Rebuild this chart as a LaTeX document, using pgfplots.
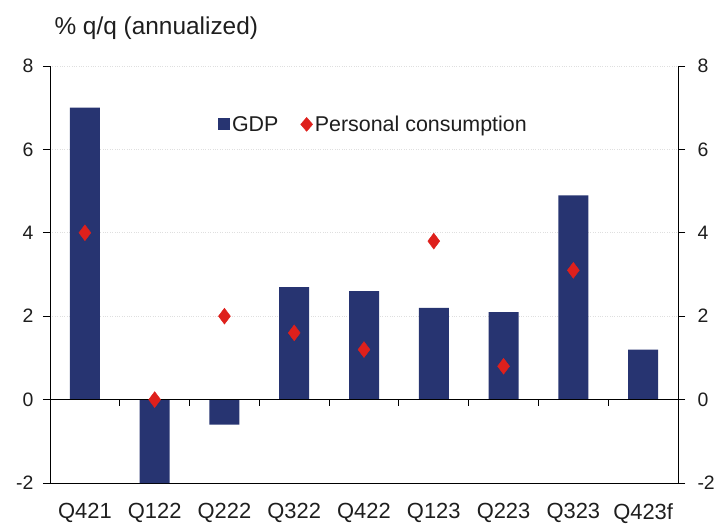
\documentclass[border=0pt]{standalone}
\usepackage{pgfplots}
\pgfplotsset{compat=1.18}
\usepackage{fontspec}
\setmainfont{Liberation Sans}
\definecolor{navy}{RGB}{39,52,113}
\definecolor{dred}{RGB}{222,32,28}
\definecolor{txt}{RGB}{30,30,30}
\begin{document}
\begin{tikzpicture}
\begin{axis}[
  at={(0,0)}, anchor=south west,
  scale only axis, width=628bp, height=417bp,
  xmin=-0.5, xmax=8.5, ymin=-2, ymax=8,
  xtick={0,1,2,3,4,5,6,7,8},
  xticklabels={Q421,Q122,Q222,Q322,Q422,Q123,Q223,Q323,Q423f},
  x tick style={draw=none},
  ytick={-2,0,2,4,6,8},
  axis x line*=bottom,
  tick align=outside,
  major tick length=7bp,
  every tick/.style={black, line width=0.9pt},
  axis line style={black, line width=0.9pt},
  ymajorgrids, grid style={gray!25, dotted, line width=0.6pt},
  /pgf/number format/assume math mode=true,
  ticklabel style={font=\fontsize{19.5}{22}\selectfont, text=txt},
  xticklabel style={font=\fontsize{22}{24}\selectfont, yshift=-10bp},
  yticklabel style={xshift=-6bp},
  legend style={at={(rel axis cs:0.515,0.86)}, anchor=center, draw=none, fill=none,
    font=\fontsize{21.5}{24}\selectfont, text=txt,
    nodes={inner xsep=2bp},
    /tikz/every even column/.append style={column sep=20bp}},
  legend columns=2,
  clip=false,
]
\addplot[ybar, bar width=30bp, fill=navy, draw=none,
  legend image code/.code={\fill[navy] (4bp,-6bp) rectangle (16bp,6bp);}]
  coordinates {(0,7.0) (1,-2.0) (2,-0.6) (3,2.7) (4,2.6) (5,2.2) (6,2.1) (7,4.9) (8,1.2)};
\addlegendentry{GDP}
\addplot[only marks, color=dred, mark=diamond*, mark size=8, mark options={fill=dred, draw=none},
  legend image code/.code={\fill[dred] (9bp,7bp) -- (15bp,0bp) -- (9bp,-7bp) -- (3bp,0bp) -- cycle;}]
  coordinates {(0,4.0) (1,0.0) (2,2.0) (3,1.6) (4,1.2) (5,3.8) (6,0.8) (7,3.1)};
\addlegendentry{Personal consumption}
\draw[black, line width=0.9pt] (axis cs:-0.5,0) -- (axis cs:8.5,0);
\draw[black, line width=0.9pt] (axis cs:0.5,0) -- (axis cs:0.5,-0.15);
\draw[black, line width=0.9pt] (axis cs:1.5,0) -- (axis cs:1.5,-0.15);
\draw[black, line width=0.9pt] (axis cs:2.5,0) -- (axis cs:2.5,-0.15);
\draw[black, line width=0.9pt] (axis cs:3.5,0) -- (axis cs:3.5,-0.15);
\draw[black, line width=0.9pt] (axis cs:4.5,0) -- (axis cs:4.5,-0.15);
\draw[black, line width=0.9pt] (axis cs:5.5,0) -- (axis cs:5.5,-0.15);
\draw[black, line width=0.9pt] (axis cs:6.5,0) -- (axis cs:6.5,-0.15);
\draw[black, line width=0.9pt] (axis cs:7.5,0) -- (axis cs:7.5,-0.15);
\end{axis}
\begin{axis}[
  at={(0,0)}, anchor=south west,
  scale only axis, width=628bp, height=417bp,
  xmin=-0.5, xmax=8.5, ymin=-2, ymax=8,
  hide x axis,
  axis y line*=right,
  ytick={-2,0,2,4,6,8},
  tick align=outside,
  major tick length=7bp,
  every tick/.style={black, line width=0.9pt},
  axis line style={black, line width=0.9pt},
  /pgf/number format/assume math mode=true,
  ticklabel style={font=\fontsize{19.5}{22}\selectfont, text=txt},
  yticklabel style={xshift=9bp},
]
\addplot[draw=none] coordinates {(0,0)};
\end{axis}
\node[anchor=west, font=\fontsize{24.5}{28}\selectfont, text=txt] at (1bp,455bp) {\% q/q (annualized)};
\pgfresetboundingbox
\path[use as bounding box] (-50bp,-43bp) rectangle (668bp,483bp);
\end{tikzpicture}
\end{document}
